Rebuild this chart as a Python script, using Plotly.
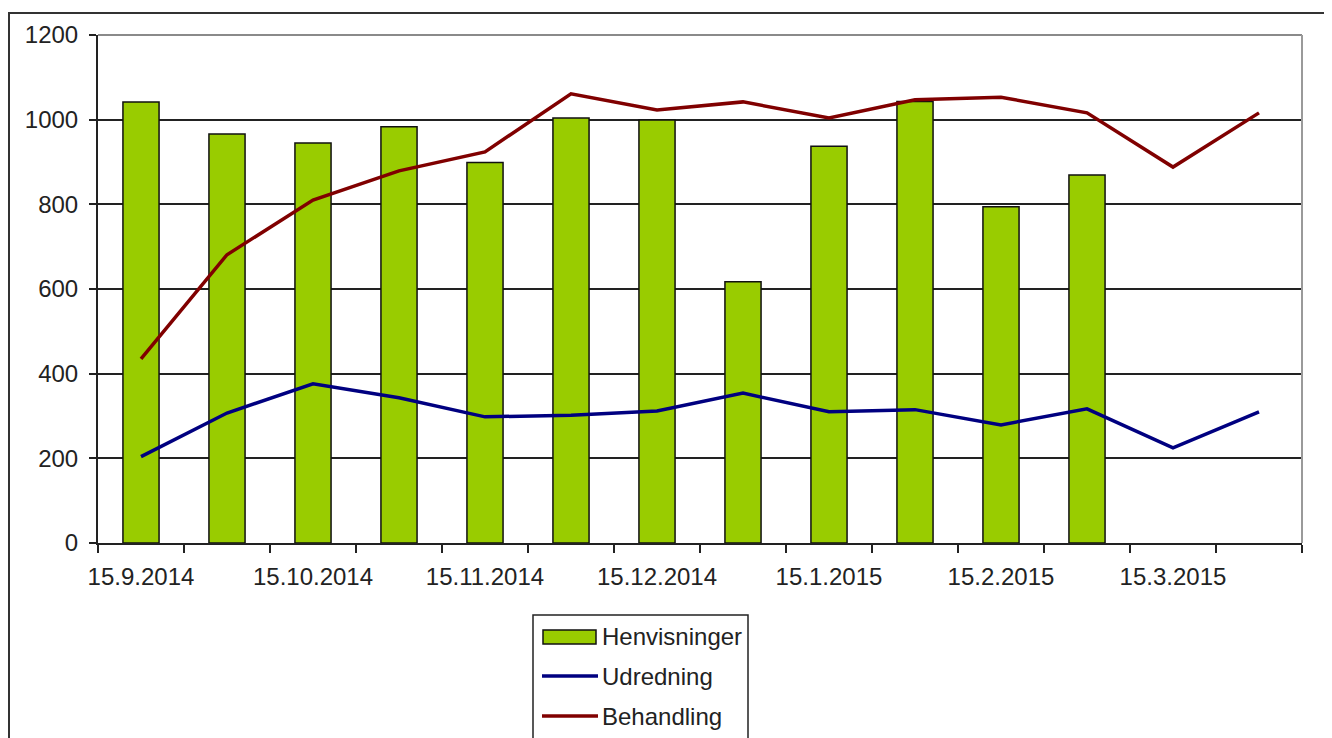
import plotly.graph_objects as go

# ---- data ----
categories = ["15.9.2014", "1.10.2014", "15.10.2014", "1.11.2014", "15.11.2014", "1.12.2014",
              "15.12.2014", "1.1.2015", "15.1.2015", "1.2.2015", "15.2.2015", "1.3.2015",
              "15.3.2015", "1.4.2015"]
tick_labels = ["15.9.2014", "", "15.10.2014", "", "15.11.2014", "", "15.12.2014", "",
               "15.1.2015", "", "15.2.2015", "", "15.3.2015", ""]
henvisninger = [1042, 966, 945, 983, 899, 1004, 999, 617, 937, 1043, 794, 869, None, None]
udredning = [204, 307, 376, 343, 298, 302, 312, 354, 310, 315, 279, 317, 225, 310]
behandling = [435, 681, 810, 879, 924, 1061, 1023, 1042, 1004, 1047, 1053, 1016, 888, 1016]
series_names = ["Henvisninger", "Udredning", "Behandling"]

GREEN = "#99CC00"
NAVY = "#000080"
MAROON = "#800000"
FONT = "Liberation Sans, Arial, sans-serif"
TXT = "#222222"
FS = 24

fig = go.Figure()
fig.add_trace(go.Bar(x=categories, y=henvisninger, name=series_names[0], width=0.42,
                     marker=dict(color=GREEN, line=dict(color="#111111", width=1.5)),
                     showlegend=False))
fig.add_trace(go.Scatter(x=categories, y=udredning, name=series_names[1], mode="lines",
                         line=dict(color=NAVY, width=3.5), showlegend=False))
fig.add_trace(go.Scatter(x=categories, y=behandling, name=series_names[2], mode="lines",
                         line=dict(color=MAROON, width=3.5), showlegend=False))

OFF = 8  # page body margin
FW, FH = 1332 - OFF, 738 - OFF
L, R, T, B = 98 - OFF, 1302 - OFF, 35 - OFF, 543 - OFF
W, H = R - L, B - T


def px(x):  # screen x -> paper
    return (x - OFF - L) / W


def py(y):  # screen y -> paper
    return (B - (y - OFF)) / H


shapes = []
# outer frame
shapes.append(dict(type="rect", xref="paper", yref="paper", x0=px(9), x1=px(1345),
                   y0=py(760), y1=py(13), line=dict(color="#333333", width=2),
                   fillcolor="rgba(0,0,0,0)", layer="below"))
# plot area top and right border (gray)
shapes.append(dict(type="line", xref="paper", yref="paper", x0=0, x1=1, y0=1, y1=1,
                   line=dict(color="#8a8a8a", width=2)))
shapes.append(dict(type="line", xref="paper", yref="paper", x0=1, x1=1, y0=0, y1=1,
                   line=dict(color="#9a9a9a", width=2)))

# manual legend
shapes.append(dict(type="rect", xref="paper", yref="paper", x0=px(533), x1=px(748),
                   y0=py(745), y1=py(615), line=dict(color="#222222", width=1.5),
                   fillcolor="white"))
shapes.append(dict(type="rect", xref="paper", yref="paper", x0=px(543), x1=px(596),
                   y0=py(644), y1=py(630), line=dict(color="#111111", width=1.5),
                   fillcolor=GREEN))
shapes.append(dict(type="line", xref="paper", yref="paper", x0=px(542), x1=px(598),
                   y0=py(676), y1=py(676), line=dict(color=NAVY, width=3.5)))
shapes.append(dict(type="line", xref="paper", yref="paper", x0=px(542), x1=px(598),
                   y0=py(716), y1=py(716), line=dict(color=MAROON, width=3.5)))

annotations = []
for name, yy in zip(series_names, [636, 676, 716]):
    annotations.append(dict(text=name, xref="paper", yref="paper", x=px(600), y=py(yy),
                            xanchor="left", yanchor="middle", showarrow=False,
                            font=dict(family=FONT, size=FS, color=TXT)))

fig.update_layout(
    width=FW, height=FH,
    margin=dict(l=L, r=FW - R, t=T, b=FH - B),
    paper_bgcolor="white", plot_bgcolor="white",
    font=dict(family=FONT, size=FS, color=TXT),
    shapes=shapes, annotations=annotations,
    showlegend=False,
)
fig.update_xaxes(
    type="category", tickmode="array", tickvals=categories, ticktext=tick_labels,
    tickson="boundaries", ticks="outside", ticklen=8, tickwidth=2, tickcolor="#222222",
    showline=True, linecolor="#222222", linewidth=2, showgrid=False,
    range=[-0.5, 13.5], tickangle=0, tickfont=dict(size=FS, color=TXT),
    ticklabelstandoff=11,
)
fig.update_yaxes(
    range=[0, 1200], tickvals=[0, 200, 400, 600, 800, 1000, 1200],
    ticks="outside", ticklen=7, tickwidth=2, tickcolor="#222222",
    showline=True, linecolor="#222222", linewidth=2,
    showgrid=True, gridcolor="#222222", gridwidth=1.5,
    zeroline=False, ticklabelstandoff=6, tickfont=dict(size=FS, color=TXT),
)

fig.write_html("out.html")
